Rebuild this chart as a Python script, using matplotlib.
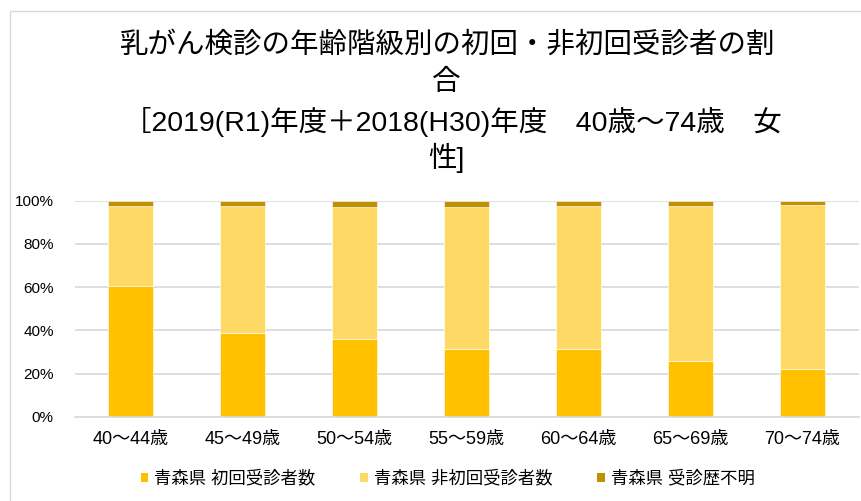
import matplotlib
matplotlib.use("Agg")
import matplotlib.pyplot as plt
from matplotlib import font_manager
from matplotlib.patches import Patch, Rectangle

categories = ["40～44歳", "45～49歳", "50～54歳", "55～59歳", "60～64歳", "65～69歳", "70～74歳"]
first_visit = [0.605, 0.389, 0.360, 0.313, 0.313, 0.259, 0.221]
repeat_visit = [0.372, 0.588, 0.612, 0.659, 0.662, 0.716, 0.759]
unknown_history = [0.023, 0.023, 0.028, 0.028, 0.025, 0.025, 0.020]
series_names = ["青森県 初回受診者数", "青森県 非初回受診者数", "青森県 受診歴不明"]
yticks = [0, 0.2, 0.4, 0.6, 0.8, 1.0]
ytick_labels = ["0%", "20%", "40%", "60%", "80%", "100%"]
title_lines = ["乳がん検診の年齢階級別の初回・非初回受診者の割", "合",
               "［2019(R1)年度＋2018(H30)年度　40歳～74歳　女", "性]"]

colors = ["#FFC000", "#FFD966", "#BF9000"]

avail = {f.name for f in font_manager.fontManager.ttflist}
has_narrow = "Liberation Sans Narrow" in avail
narrow = "Liberation Sans Narrow" if has_narrow else "Liberation Sans"
cjk = "Noto Sans CJK JP"
fam = [narrow, cjk, "DejaVu Sans"]
plt.rcParams["font.family"] = fam

W, H = 861, 501
fig = plt.figure(figsize=(W / 100, H / 100), dpi=100)

# chart frame (cropped at right/bottom)
fig.patches.append(Rectangle((9.5 / W, -0.1), 1.2, (H - 10.5) / H + 0.1,
                             transform=fig.transFigure, fill=False,
                             edgecolor="#D9D9D9", linewidth=1.0))

left, right = 74.5 / W, 858.5 / W
bottom, top = (H - 416.7) / H, (H - 200.7) / H
ax = fig.add_axes([left, bottom, right - left, top - bottom])

x = list(range(len(categories)))
ax.bar(x, first_visit, width=0.4, color=colors[0], edgecolor="white", linewidth=0.4, zorder=3)
bot2 = first_visit
ax.bar(x, repeat_visit, width=0.4, bottom=bot2, color=colors[1], edgecolor="white", linewidth=0.4, zorder=3)
bot3 = [a + b for a, b in zip(first_visit, repeat_visit)]
ax.bar(x, unknown_history, width=0.4, bottom=bot3, color=colors[2], edgecolor="white", linewidth=0.4, zorder=3)

ax.set_xlim(-0.5, len(categories) - 0.5)
ax.set_ylim(0, 1.0)
ax.set_yticks(yticks)
ax.set_yticklabels(ytick_labels, fontsize=12 if has_narrow else 11, family=[narrow, "DejaVu Sans"])
ax.set_xticks(x)
ax.set_xticklabels(categories, fontsize=13, family=fam)
ax.tick_params(axis="both", length=0, colors="#000000")
ax.tick_params(axis="y", pad=15)
ax.tick_params(axis="x", pad=10)
ax.grid(axis="y", color="#D9D9D9", linewidth=1.2, zorder=0)
ax.set_axisbelow(True)
for s in ["top", "right", "left"]:
    ax.spines[s].set_visible(False)
ax.spines["bottom"].set_color("#D9D9D9")
ax.spines["bottom"].set_linewidth(1.2)
ax.spines["bottom"].set_zorder(4)

# title
title_pos = [(448, 45), (446, 83), (452, 122), (446, 158)]
for txt, (tx, ty) in zip(title_lines, title_pos):
    fig.text(tx / W, (H - ty) / H, txt, ha="center", va="center",
             fontsize=20.5, family=fam, color="#000000")

handles = [Patch(facecolor=c, edgecolor="none") for c in colors]
fig.legend(handles, series_names, loc="center", bbox_to_anchor=(447.5 / W, (H - 478) / H),
           ncol=3, frameon=False, prop={"family": fam, "size": 12.5},
           handlelength=0.45, handleheight=0.45, handletextpad=0.35, columnspacing=2.55)

fig.savefig("out.png", dpi=100)
